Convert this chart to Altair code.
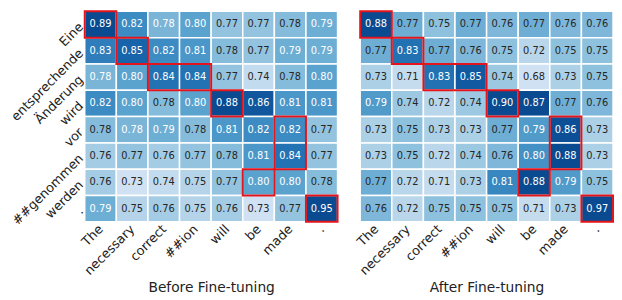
import json
import altair as alt
import pandas as pd

src_tokens = ["Eine", "entsprechende", "Änderung", "wird", "vor", "##genommen", "werden", "."]
tgt_tokens = ["The", "necessary", "correct", "##ion", "will", "be", "made", "."]

# values (third decimal estimated from cell shade)
before = [
    [0.89, 0.82, 0.783, 0.80, 0.77, 0.77, 0.777, 0.79],
    [0.83, 0.85, 0.82, 0.81, 0.777, 0.77, 0.79, 0.79],
    [0.783, 0.80, 0.84, 0.84, 0.77, 0.74, 0.777, 0.80],
    [0.82, 0.80, 0.777, 0.80, 0.88, 0.86, 0.81, 0.81],
    [0.777, 0.783, 0.79, 0.777, 0.81, 0.82, 0.82, 0.77],
    [0.76, 0.77, 0.76, 0.77, 0.777, 0.81, 0.84, 0.77],
    [0.76, 0.73, 0.74, 0.75, 0.77, 0.80, 0.80, 0.777],
    [0.79, 0.75, 0.76, 0.75, 0.76, 0.73, 0.77, 0.95],
]
after = [
    [0.88, 0.77, 0.75, 0.77, 0.76, 0.77, 0.76, 0.76],
    [0.77, 0.83, 0.77, 0.76, 0.75, 0.72, 0.75, 0.75],
    [0.73, 0.71, 0.83, 0.85, 0.74, 0.68, 0.73, 0.75],
    [0.79, 0.74, 0.72, 0.74, 0.90, 0.87, 0.77, 0.76],
    [0.73, 0.75, 0.73, 0.73, 0.77, 0.79, 0.86, 0.73],
    [0.73, 0.75, 0.72, 0.74, 0.76, 0.80, 0.88, 0.73],
    [0.77, 0.72, 0.71, 0.73, 0.81, 0.88, 0.79, 0.75],
    [0.76, 0.72, 0.75, 0.75, 0.75, 0.71, 0.73, 0.97],
]
# highlighted cell groups: (first row, last row, first col, last col)
boxes = [(0, 0, 0, 0), (1, 1, 1, 1), (2, 2, 2, 3), (3, 3, 4, 4),
         (4, 5, 6, 6), (6, 6, 5, 5), (7, 7, 7, 7)]

titles = ["Before Fine-tuning", "After Fine-tuning"]
domains = [[0.73, 0.87], [0.70, 0.865]]
white_thresholds = [0.78, 0.78]

FONT = "DejaVu Sans"
W, H = 257, 214


def cells_df(mat):
    rows = []
    for r, row in enumerate(mat):
        for c, v in enumerate(row):
            rows.append({"r0": r, "r1": r + 1, "rc": r + 0.5,
                         "c0": c, "c1": c + 1, "cc": c + 0.5,
                         "value": v, "label": f"{v:.2f}"})
    return pd.DataFrame(rows)


boxes_df = pd.DataFrame([{"r0": a, "r1": b + 1, "c0": c, "c1": d + 1} for a, b, c, d in boxes])

ticks = [i + 0.5 for i in range(8)]
x_expr = json.dumps(tgt_tokens) + "[floor(datum.value)]"
y_expr = json.dumps(src_tokens) + "[floor(datum.value)]"


def panel(mat, title, domain, thr, show_y):
    df = cells_df(mat)
    xs = alt.Scale(domain=[0, 8], nice=False, zero=False)
    ys = alt.Scale(domain=[0, 8], nice=False, zero=False, reverse=True)
    xaxis = alt.Axis(values=ticks, labelExpr=x_expr, labelAngle=315, labelAlign="right",
                     labelBaseline="middle", ticks=False, domain=False, grid=False,
                     labelOverlap=False, labelBound=False, labelFlush=False,
                     labelFontSize=13, labelPadding=5, labelColor="#222222",
                     title=title, titleFontSize=14, titleFontWeight="normal",
                     titleColor="#222222", titlePadding=3)
    if show_y:
        yaxis = alt.Axis(values=ticks, labelExpr=y_expr, labelAngle=315, labelAlign="right",
                         labelBaseline="middle", ticks=False, domain=False, grid=False,
                         labelOverlap=False, labelBound=False, labelFlush=False,
                         labelFontSize=13, labelPadding=4,
                         labelColor="#222222", title=None)
    else:
        yaxis = None
    base = alt.Chart(df)
    rect = base.mark_rect(stroke="white", strokeWidth=1.5).encode(
        x=alt.X("c0:Q", scale=xs, axis=xaxis),
        x2="c1:Q",
        y=alt.Y("r0:Q", scale=ys, axis=yaxis),
        y2="r1:Q",
        color=alt.Color("value:Q", scale=alt.Scale(scheme="blues", domain=domain, clamp=True),
                        legend=None),
    )
    text = base.mark_text(font=FONT, fontSize=10).encode(
        x=alt.X("cc:Q", scale=xs, axis=xaxis),
        y=alt.Y("rc:Q", scale=ys, axis=yaxis),
        text="label:N",
        color=alt.condition(f"datum.value >= {thr}", alt.value("white"), alt.value("#262626")),
    )
    box = alt.Chart(boxes_df).mark_rect(filled=False, stroke="#e3141b", strokeWidth=2).encode(
        x=alt.X("c0:Q", scale=xs, axis=xaxis), x2="c1:Q",
        y=alt.Y("r0:Q", scale=ys, axis=yaxis), y2="r1:Q",
    )
    return alt.layer(rect, text, box).properties(width=W, height=H)


left = panel(before, titles[0], domains[0], white_thresholds[0], True)
right = panel(after, titles[1], domains[1], white_thresholds[1], False)

chart = alt.hconcat(left, right, spacing=16).resolve_scale(color="independent").properties(
    padding={"left": 0, "top": 0, "right": 0, "bottom": 0}
).configure(font=FONT).configure_view(stroke=None).configure_axis(
    labelOverlap=False, labelBound=False, labelFlush=False
)

chart.save("out.html", embed_options={"renderer": "svg", "actions": False})
